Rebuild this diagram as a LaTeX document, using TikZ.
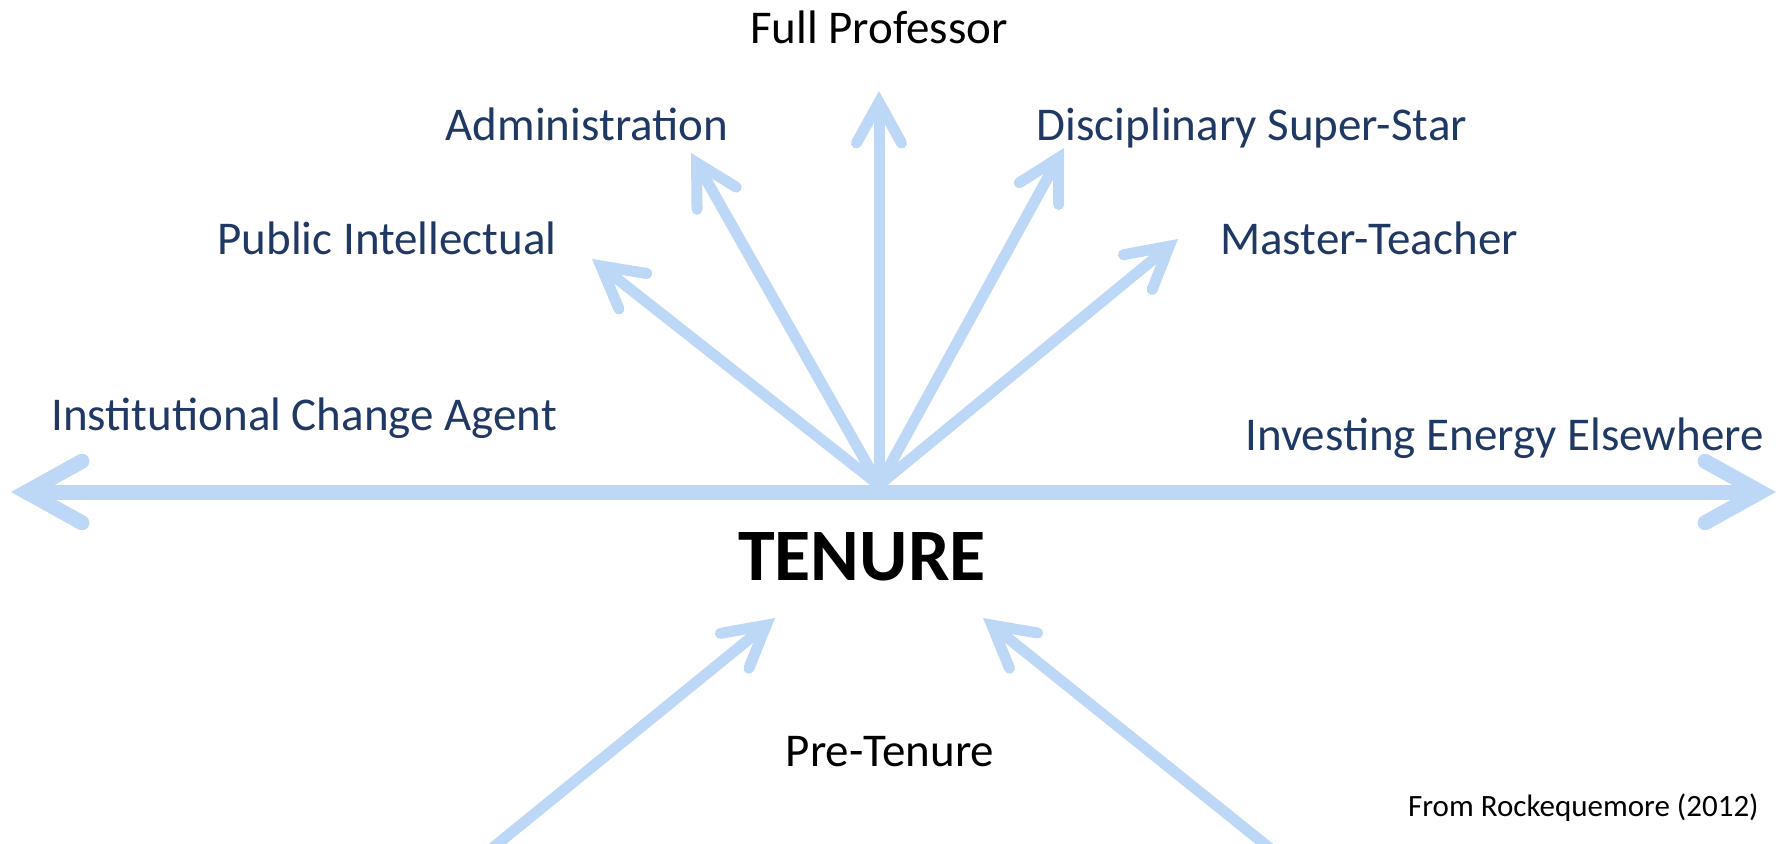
\documentclass[tikz,border=0pt]{standalone}
\usepackage{fontspec}
\setmainfont{Carlito}
\usetikzlibrary{arrows.meta}
\definecolor{lightroute}{RGB}{189,215,247}
\definecolor{darkroute}{RGB}{31,56,100}

\begin{document}
\begin{tikzpicture}[x=0.5pt,y=-0.5pt,
    route/.style={line width=5.5pt,every edge/.append style={draw=lightroute},
      -{Straight Barb[length=0pt 3.7,width=0pt 4.1,line cap=round,line join=miter]}},
    axis/.style={route,line width=7.5pt},
    career/.style={text=darkroute,font=\fontsize{23.5}{28}\selectfont,inner sep=0pt,anchor=mid},
    plain/.style={career,text=black}]
  \useasboundingbox (0,0) rectangle (1784,843);

  \coordinate (hub)    at (879,485);
  \coordinate (centre) at (879,492);
  \coordinate (west)   at (11,492);
  \coordinate (east)   at (1776,492);
  \coordinate (top)    at (879,91);
  \coordinate (admin)  at (691,153);
  \coordinate (star)   at (1064,148);
  \coordinate (public) at (592,259);
  \coordinate (master) at (1178,239);
  \coordinate (pre_l)  at (490,850);
  \coordinate (tip_l)  at (775,618);
  \coordinate (pre_r)  at (1272,850);
  \coordinate (tip_r)  at (983,618);

  \node[plain]  (full)  at (879,39)   {Full Professor};
  \node[career] (adm)   at (587,136)  {Administration};
  \node[career] (dss)   at (1252,136) {Disciplinary Super-Star};
  \node[career] (pubi)  at (387,250)  {Public Intellectual};
  \node[career] (mt)    at (1369,250) {Master-Teacher};
  \node[career,anchor=mid west] (ica) at (51,426)  {Institutional Change Agent};
  \node[career,anchor=mid east] (iee) at (1764,446) {Investing Energy Elsewhere};
  \node[plain,font=\fontsize{37}{42}\selectfont\bfseries] (tenure) at (862,576) {TENURE};
  \node[plain]  (pre)   at (890,762)  {Pre-Tenure};
  \node[plain,font=\fontsize{15.5}{18}\selectfont,anchor=mid east] (src) at (1759,812) {From Rockequemore (2012)};

  % horizontal axis
  \path[axis] (centre) edge (west) (centre) edge (east);
  % fan of careers
  \path[route]
    (hub) edge (public)
    (hub) edge (admin)
    (hub) edge (top)
    (hub) edge (star)
    (hub) edge (master);
  % coming in
  \path[route]
    (pre_l) edge (tip_l)
    (pre_r) edge (tip_r);
\end{tikzpicture}
\end{document}
